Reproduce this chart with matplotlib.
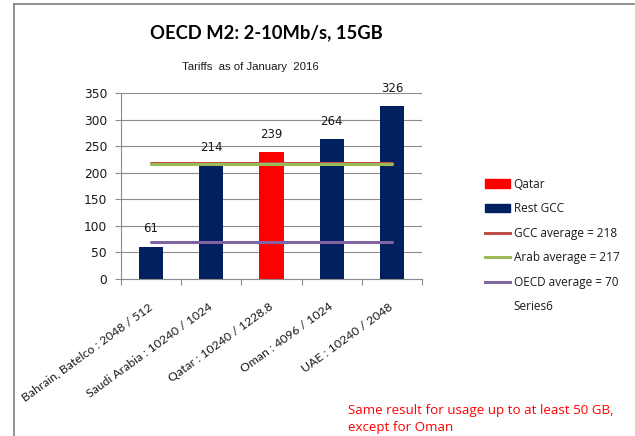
import matplotlib as mlp
mlp.use('Agg')
import matplotlib.pyplot as plt
import matplotlib.transforms as mtransforms
from matplotlib.lines import Line2D
from matplotlib.patches import Patch

# data
countries = ['Bahrain, Batelco : 2048 / 512', 'Saudi Arabia : 10240 / 1024',
             'Qatar : 10240 / 1228.8', 'Oman : 4096 / 1024', 'UAE : 10240 / 2048']
tariffs = [61, 214, 239, 264, 326]
is_qatar = [False, False, True, False, False]
avg_names = ['GCC average = 218', 'Arab average = 217', 'OECD average = 70']
avg_values = [218, 217, 70]

NAVY = '#002060'
RED = '#FF0000'
AVG_COLORS = ['#C0504D', '#9BBB59', '#8064A2']
GRID = '#8C8C8C'
TXT = '#1A1A1A'

fig = plt.figure(figsize=(6.35, 4.36), dpi=100)
W, H = 635.0, 436.0
ax = fig.add_axes([121 / W, 1 - 279 / H, (422 - 121) / W, (279 - 93) / H])

x = list(range(len(countries)))
colors = [RED if q else NAVY for q in is_qatar]
ax.bar(x, tariffs, width=0.4, color=colors, zorder=2)
for xi, v in zip(x, tariffs):
    ax.annotate(str(v), (xi, v), xytext=(0, 8), textcoords='offset points',
                ha='center', va='bottom', fontsize=8.5, color=TXT,
                family='DejaVu Sans')

for val, col in zip(avg_values, AVG_COLORS):
    ax.plot([x[0], x[-1]], [val, val], color=col, lw=2.2, zorder=3,
            solid_capstyle='round')

ax.set_ylim(0, 350)
ax.set_xlim(-0.5, len(countries) - 0.5)
ax.set_yticks(range(0, 351, 50))
ax.yaxis.grid(True, color=GRID, lw=0.8, zorder=0)
ax.set_axisbelow(True)
ax.set_xticks([i + 0.5 for i in range(-1, len(countries))], minor=False)
ax.set_xticklabels([])
ax.set_xticks(x, minor=True)
ax.set_xticklabels(countries, minor=True, rotation=36, ha='right',
                   va='center', rotation_mode='anchor', fontsize=8.8,
                   family='Lato', color=TXT)
shift = mtransforms.ScaledTranslation(4 / 100, 0, fig.dpi_scale_trans)
for lab in ax.get_xticklabels(minor=True):
    lab.set_transform(lab.get_transform() + shift)
ax.tick_params(axis='x', which='minor', length=0, pad=19)
ax.tick_params(axis='x', which='major', length=4, color=GRID)
ax.tick_params(axis='y', length=4, color=GRID, labelsize=8.8,
               labelcolor=TXT, pad=6)
ax.spines['top'].set_visible(False)
ax.spines['right'].set_visible(False)
ax.spines['left'].set_color(GRID)
ax.spines['bottom'].set_color(GRID)

fig.text(266 / W, 1 - 33 / H, 'OECD M2: 2-10Mb/s, 15GB', ha='center',
         va='center', fontsize=13.2, fontweight='bold', family='Lato',
         color='black')
fig.text(250 / W, 1 - 67 / H, 'Tariffs  as of January  2016', ha='center',
         va='center', fontsize=8.2, family='Liberation Sans', color=TXT)

handles = [Patch(color=RED), Patch(color=NAVY)]
handles += [Line2D([], [], color=c, lw=2.2) for c in AVG_COLORS]
handles += [Patch(color='none')]
labels = ['Qatar', 'Rest GCC'] + avg_names + ['Series6']
fig.legend(handles, labels, loc='upper left',
           bbox_to_anchor=(474 / W, 1 - 167 / H), frameon=False,
           prop={'family': 'Open Sans', 'size': 8.5}, labelspacing=0.98,
           handlelength=2.15, handletextpad=0.3, labelcolor=TXT)

fig.text(348 / W, 1 - 419 / H,
         'Same result for usage up to at least 50 GB,\nexcept for Oman',
         ha='left', va='center', fontsize=9.6, family='Open Sans', color=RED,
         linespacing=1.35)

# outer frame
fig.add_artist(Line2D([14 / W, 14 / W], [0, 1 - 4 / H], color='#7F7F7F',
                      lw=1.2, transform=fig.transFigure))
fig.add_artist(Line2D([14 / W, 634 / W], [1 - 4 / H, 1 - 4 / H],
                      color='#7F7F7F', lw=1.2, transform=fig.transFigure))

fig.savefig('out.png', dpi=100)
